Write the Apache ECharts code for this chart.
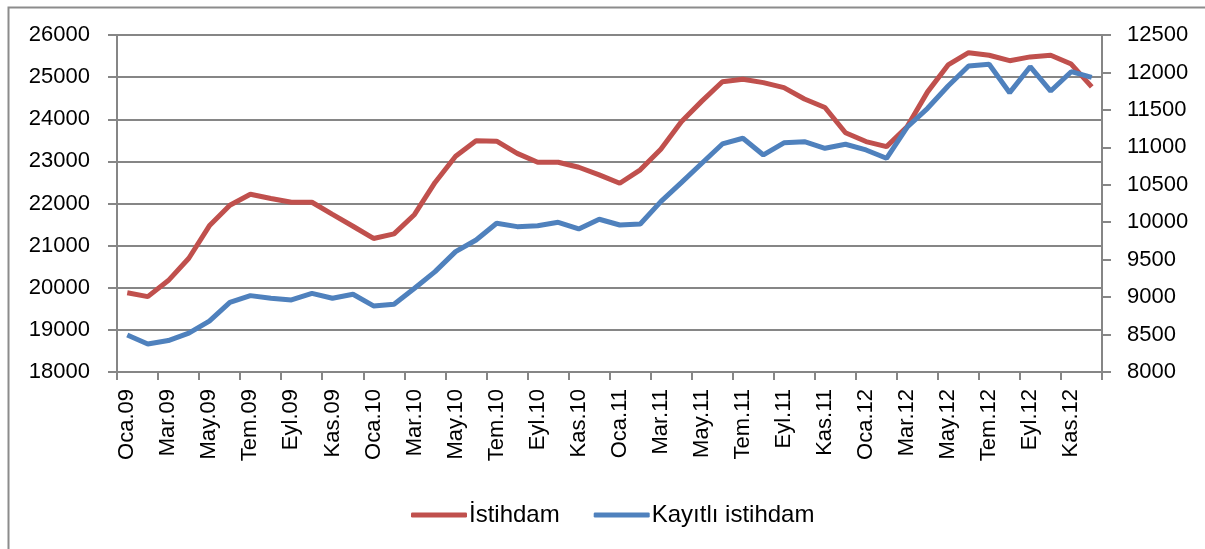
<!DOCTYPE html>
<html>
<head>
<meta charset="utf-8">
<script src="https://cdn.jsdelivr.net/npm/echarts@6/dist/echarts.min.js"></script>
<style>
  html, body { margin: 0; padding: 0; background: #fff; }
  #chart { width: 1205px; height: 549px; }
</style>
</head>
<body>
<div id="chart"></div>
<script>
const monthNames = ['Oca', 'Şub', 'Mar', 'Nis', 'May', 'Haz', 'Tem', 'Ağu', 'Eyl', 'Eki', 'Kas', 'Ara']
const years = ['09', '10', '11', '12']
const months = []
years.forEach(y => monthNames.forEach(m => months.push(m + '.' + y)))

// İstihdam (left axis, thousand persons)
const istihdam = [
  19880, 19790, 20170, 20700, 21470, 21960, 22220, 22120, 22030, 22030, 21740, 21460,
  21170, 21280, 21740, 22500, 23120, 23490, 23480, 23190, 22980, 22980, 22860, 22680,
  22480, 22800, 23290, 23940, 24430, 24890, 24950, 24870, 24750, 24480, 24280, 23680,
  23470, 23350, 23820, 24650, 25290, 25580, 25520, 25390, 25480, 25520, 25310, 24770
]
// Kayıtlı istihdam (right axis)
const kayitli = [
  8495, 8375, 8420, 8520, 8680, 8930, 9020, 8985, 8962, 9050, 8985, 9038,
  8882, 8905, 9118, 9340, 9607, 9763, 9986, 9941, 9954, 9999, 9910, 10040,
  9963, 9977, 10275, 10528, 10787, 11045, 11121, 10898, 11060, 11076, 10987, 11041,
  10965, 10854, 11268, 11521, 11819, 12086, 12109, 11730, 12077, 11752, 12010, 11935
]

const axisGray = '#868686'
const font = '"Liberation Sans", Arial, sans-serif'

const chart = echarts.init(document.getElementById('chart'), null, { renderer: 'canvas' })

chart.setOption({
  animation: false,
  grid: { left: 117, right: 103, top: 35, bottom: 177, containLabel: false },
  legend: {
    top: 498,
    left: 406,
    itemWidth: 56,
    itemHeight: 5,
    itemGap: 34,
    icon: 'roundRect',
    textStyle: { fontFamily: font, fontSize: 24, color: '#000', padding: [0, 0, 0, -3] },
    data: ['İstihdam', 'Kayıtlı istihdam']
  },
  graphic: [{
    type: 'rect',
    left: 6, top: 5,
    shape: { width: 1300, height: 600 },
    style: { fill: 'none', stroke: '#8c8c8c', lineWidth: 2 },
    silent: true
  }],
  xAxis: {
    type: 'category',
    data: months,
    boundaryGap: true,
    axisLine: { lineStyle: { color: axisGray, width: 2 } },
    axisTick: { show: true, interval: 1, length: 8, lineStyle: { color: axisGray, width: 2 } },
    axisLabel: {
      interval: 1,
      rotate: 90,
      margin: 17,
      fontFamily: font,
      fontSize: 22,
      color: '#000'
    }
  },
  yAxis: [
    {
      type: 'value',
      min: 18000, max: 26000, interval: 1000,
      axisLine: { show: true, lineStyle: { color: axisGray, width: 2 } },
      axisTick: { show: true, length: 9, lineStyle: { color: axisGray, width: 2 } },
      axisLabel: { fontFamily: font, fontSize: 22, color: '#000', margin: 27, formatter: v => String(v) },
      splitLine: { lineStyle: { color: axisGray, width: 2 } }
    },
    {
      type: 'value',
      min: 8000, max: 12500, interval: 500,
      axisLine: { show: true, lineStyle: { color: axisGray, width: 2 } },
      axisTick: { show: true, length: 9, lineStyle: { color: axisGray, width: 2 } },
      axisLabel: { fontFamily: font, fontSize: 22, color: '#000', margin: 25, formatter: v => String(v) },
      splitLine: { show: false }
    }
  ],
  series: [
    {
      name: 'İstihdam',
      type: 'line',
      yAxisIndex: 0,
      data: istihdam,
      symbol: 'none',
      color: '#C0504D',
      lineStyle: { width: 5, color: '#C0504D' }
    },
    {
      name: 'Kayıtlı istihdam',
      type: 'line',
      yAxisIndex: 1,
      data: kayitli,
      symbol: 'none',
      color: '#4F81BD',
      lineStyle: { width: 5, color: '#4F81BD' }
    }
  ]
})
</script>
</body>
</html>
